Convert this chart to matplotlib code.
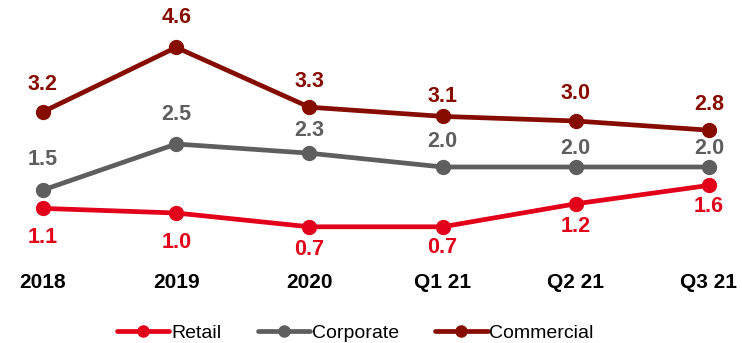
import matplotlib.pyplot as plt

plt.rcParams['font.family'] = ['Liberation Sans', 'DejaVu Sans']

periods = ["2018", "2019", "2020", "Q1 21", "Q2 21", "Q3 21"]
retail = [1.1, 1.0, 0.7, 0.7, 1.2, 1.6]
corporate = [1.5, 2.5, 2.3, 2.0, 2.0, 2.0]
commercial = [3.2, 4.6, 3.3, 3.1, 3.0, 2.8]

# vertical label offsets (points) so the numbers clear the neighbouring lines
retail_dy = [-21, -21.5, -16.5, -15, -16, -15]
corporate_dy = [22, 21, 16.5, 18, 13, 13.5]
commercial_dy = [19.5, 21.5, 18.5, 14.5, 20, 18.5]

series = [
    ("Retail", retail, "#E2001A", retail_dy),
    ("Corporate", corporate, "#5E5E5E", corporate_dy),
    ("Commercial", commercial, "#860C00", commercial_dy),
]

fig = plt.figure(figsize=(7.42, 3.43), dpi=100)
ax = fig.add_axes([0, 0, 1, 1])
x = list(range(len(periods)))

for name, vals, color, offsets in series:
    ax.plot(x, vals, color=color, lw=3.4, marker="o", ms=10, label=name,
            solid_capstyle="round")
    for xi, v, dy in zip(x, vals, offsets):
        ax.annotate(f"{v:.1f}", (xi, v), xytext=(0, dy), textcoords="offset points",
                    ha="center", va="center", fontsize=15.5, fontweight="bold",
                    color=color)

# category labels under the lines
for xi, p in zip(x, periods):
    ax.text(xi, -0.52, p, ha="center", va="center", fontsize=15,
            fontweight="bold", color="black")

ax.set_xlim(-0.323, 5.248)
ax.set_ylim(-1.826, 5.63)
ax.axis("off")

ax.legend(loc="center", bbox_to_anchor=(0.479, 0.03), ncol=3, frameon=False,
          fontsize=14, handlelength=2.7, handletextpad=0.1, columnspacing=1.85,
          numpoints=1, markerscale=0.8, borderpad=0)

fig.savefig("out.png", dpi=100)
